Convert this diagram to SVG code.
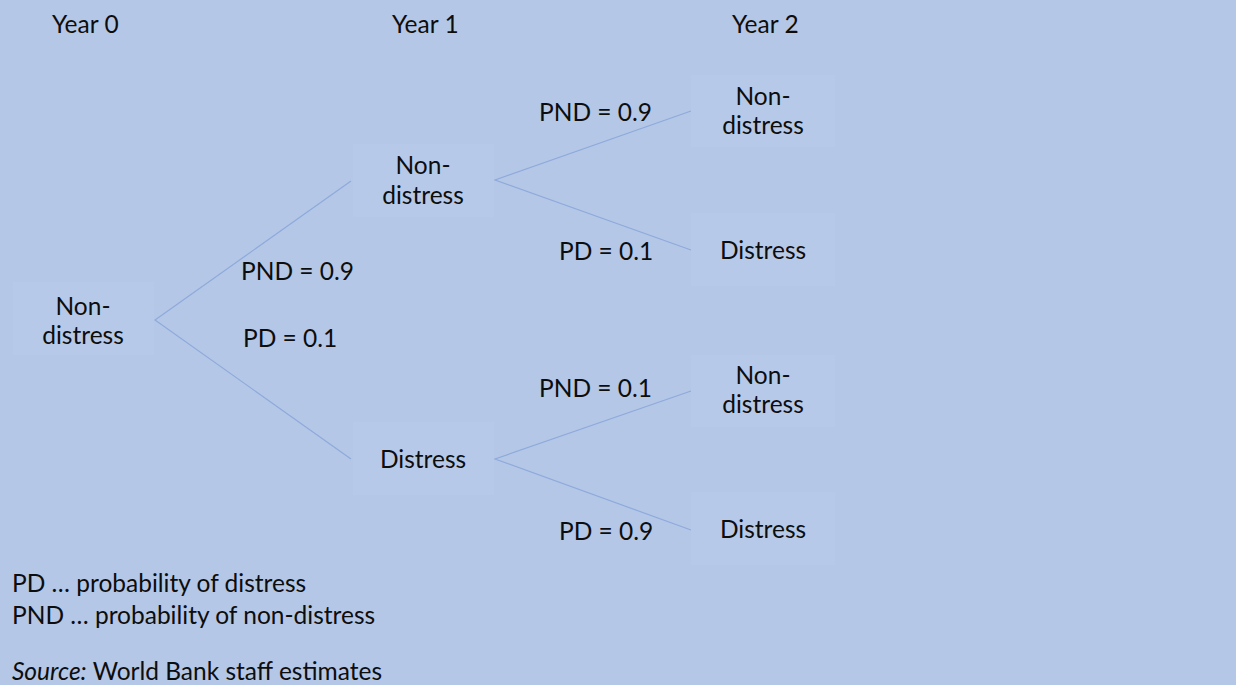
<svg xmlns="http://www.w3.org/2000/svg" width="1236" height="685" viewBox="0 0 1236 685">
<style>
text{font-family:Lato,"Liberation Sans",sans-serif;font-size:24.5px;fill:#0d0d0d}
.c{text-anchor:middle}
.box{fill:#b7c9e8;stroke:none}
.ln{stroke:#8eaadb;stroke-width:1.2;fill:none}
</style>
<rect x="0" y="0" width="1236" height="685" fill="#b4c7e7"/>
<g id="headers">
<text x="52" y="33">Year 0</text>
<text x="392" y="33">Year 1</text>
<text x="732" y="33">Year 2</text>
</g>
<g id="connectors">
<path class="ln" d="M351,181 L155,320 L351,459"/>
<path class="ln" d="M691,111 L495,180 L691,250"/>
<path class="ln" d="M691,391 L495,459 L691,530"/>
</g>
<g id="edge-labels">
<text x="241" y="280">PND = 0.9</text>
<text x="243" y="347">PD = 0.1</text>
<text x="539" y="121">PND = 0.9</text>
<text x="559" y="260">PD = 0.1</text>
<text x="539" y="397">PND = 0.1</text>
<text x="559" y="540">PD = 0.9</text>
</g>
<g id="n0"><rect class="box" x="13" y="282" width="141" height="73"/><text class="c" x="83" y="315">Non-</text><text class="c" x="83" y="344">distress</text></g>
<g id="n1a"><rect class="box" x="353" y="144" width="141" height="73"/><text class="c" x="423" y="174">Non-</text><text class="c" x="423" y="204">distress</text></g>
<g id="n1b"><rect class="box" x="353" y="422" width="141" height="73"/><text class="c" x="423" y="468">Distress</text></g>
<g id="n2a"><rect class="box" x="691" y="75" width="144" height="72"/><text class="c" x="763" y="105">Non-</text><text class="c" x="763" y="134">distress</text></g>
<g id="n2b"><rect class="box" x="691" y="213" width="144" height="73"/><text class="c" x="763" y="259">Distress</text></g>
<g id="n2c"><rect class="box" x="691" y="355" width="144" height="72"/><text class="c" x="763" y="384">Non-</text><text class="c" x="763" y="413">distress</text></g>
<g id="n2d"><rect class="box" x="691" y="492" width="144" height="73"/><text class="c" x="763" y="538">Distress</text></g>
<g id="legend">
<text x="12" y="592">PD … probability of distress</text>
<text x="12" y="624">PND … probability of non-distress</text>
<text x="12" y="680"><tspan font-style="italic">Source:</tspan> World Bank staff estimates</text>
</g>
</svg>
